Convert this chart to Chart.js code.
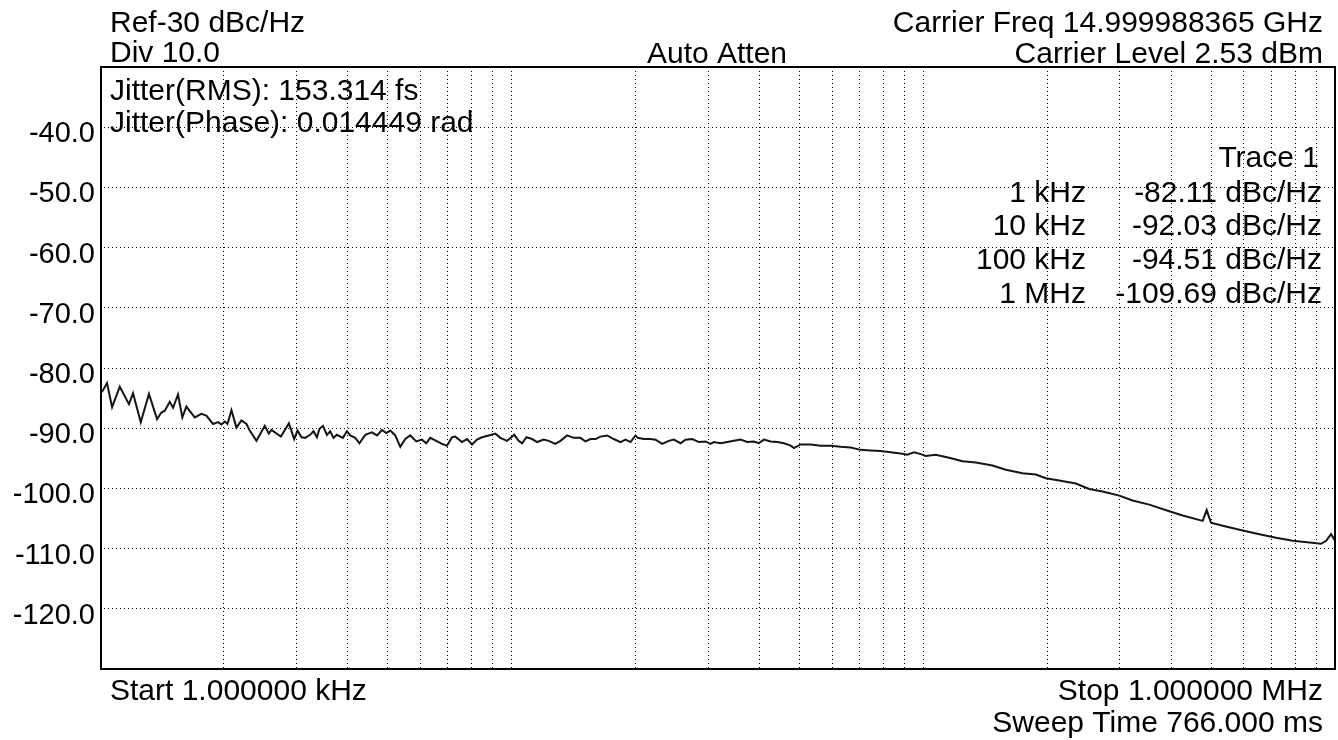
<!DOCTYPE html>
<html>
<head>
<meta charset="utf-8">
<script src="https://cdn.jsdelivr.net/npm/chart.js@4.4.1/dist/chart.umd.min.js"></script>
<style>
  html, body { margin: 0; padding: 0; background: #fff; }
  #plot { display: block; }
</style>
</head>
<body>
<canvas id="plot" width="1338" height="740"></canvas>
<script>
// offset frequency (Hz) and phase noise (dBc/Hz)
const freqHz = [1000,1017,1040,1070,1117,1176,1203,1256,1315,1376,1409,1437,1477,1505,1547,1585,1621,1699,1763,1813,
  1882,1936,1972,2010,2040,2086,2145,2206,2269,2311,2399,2514,2571,2609,2750,2876,2963,3018,3087,
  3150,3240,3300,3365,3414,3480,3558,3624,3692,3763,3890,3979,4053,4169,4268,4409,4578,4708,4842,4960,
  5072,5215,5363,5515,5671,5864,6055,6202,6342,6559,6772,6963,7164,7297,7575,7791,8012,8239,8472,8794,
  9129,9387,9745,10150,10400,10600,10860,11210,11530,11960,12300,12770,13140,13630,14150,14690,15110,15540,15980,
  16430,17060,17700,18380,18900,19440,19990,20250,20940,21740,22360,23210,24080,24770,25720,26440,27450,28500,29580,
  30410,30980,32170,33400,34660,35970,37350,38760,39840,41000,42560,44190,45850,47610,48490,50340,53240,56290,59560,
  62990,66600,70430,74480,78770,83300,88100,91460,94930,98560,101300,107200,115500,124500,134100,147200,158600,
  174100,187600,198500,213800,234700,252900,272500,299100,322400,353800,395800,426600,477000,487900,499700,533600,
  596900,655000,719300,789700,866800,925000,951500,978400,1000000];

const phaseNoise = [-84.3,-83.7,-82.5,-86.5,-83.1,-86.0,-84.2,-89.0,-84.3,-88.5,-87.4,-87.1,-85.6,-86.6,-84.4,-88.2,-86.4,-88.2,-87.6,-87.9,
  -89.3,-89.0,-89.4,-88.9,-89.3,-87.0,-89.9,-88.7,-89.3,-90.4,-92.1,-89.6,-90.9,-90.3,-91.4,-89.2,-91.8,-90.4,-91.5,
  -91.6,-91.1,-90.5,-91.5,-90.1,-89.6,-91.1,-90.5,-91.6,-91.1,-91.6,-90.5,-91.2,-91.6,-92.5,-91.1,-90.7,-91.2,-90.3,-90.8,
  -90.4,-91.2,-93.1,-91.8,-91.2,-92.2,-91.9,-92.5,-91.6,-92.1,-92.6,-92.9,-91.5,-91.4,-92.3,-91.8,-92.7,-91.9,-91.5,-91.2,
  -90.9,-91.6,-92.1,-91.1,-92.1,-92.5,-91.5,-91.8,-92.3,-91.9,-92.1,-92.6,-92.1,-91.2,-91.6,-91.6,-92.2,-91.8,-91.8,
  -91.4,-91.2,-91.8,-92.3,-91.9,-92.3,-91.2,-91.6,-91.8,-91.8,-91.9,-92.6,-92.1,-91.9,-92.5,-91.9,-91.8,-92.3,-92.2,
  -92.6,-92.3,-92.5,-92.3,-92.1,-91.9,-92.3,-92.2,-92.5,-91.9,-92.2,-92.3,-92.5,-92.9,-93.3,-92.7,-92.7,-92.9,-92.9,
  -93.1,-93.2,-93.6,-93.7,-93.8,-94.0,-94.2,-94.4,-94.0,-94.3,-94.6,-94.4,-94.9,-95.5,-95.7,-96.2,-96.9,
  -97.5,-97.7,-98.3,-98.7,-99.2,-100.1,-100.5,-101.2,-102.0,-102.7,-103.8,-104.5,-105.4,-103.6,-105.7,-106.2,
  -107.0,-107.6,-108.2,-108.7,-109.0,-109.2,-108.7,-107.6,-108.7];

// vertical grid: 1..9 per decade
const gridFreqs = [1e3,2e3,3e3,4e3,5e3,6e3,7e3,8e3,9e3,
  1e4,2e4,3e4,4e4,5e4,6e4,7e4,8e4,9e4,
  1e5,2e5,3e5,4e5,5e5,6e5,7e5,8e5,9e5,1e6];

const refLevel = -30;
const divDb = 10;
const yLabels = [-40,-50,-60,-70,-80,-90,-100,-110,-120];

const markerFreqs = ['1 kHz','10 kHz','100 kHz','1 MHz'];
const markerValues = [-82.11,-92.03,-94.51,-109.69];

const jitterRms = '153.314 fs';
const jitterPhase = '0.014449 rad';
const carrierFreq = '14.999988365 GHz';
const carrierLevel = '2.53 dBm';
const startFreq = '1.000000 kHz';
const stopFreq = '1.000000 MHz';
const sweepTime = '766.000 ms';

const FONT = '"Liberation Sans", Arial, sans-serif';
Chart.defaults.font.family = FONT;
Chart.defaults.color = '#000';

const annotations = {
  id: 'annotations',
  afterDraw(chart) {
    const ctx = chart.ctx;
    const a = chart.chartArea;
    ctx.save();
    // frame
    ctx.strokeStyle = '#000';
    ctx.lineWidth = 2;
    ctx.strokeRect(a.left + 1, a.top, a.right - a.left - 1, a.bottom - a.top);

    ctx.fillStyle = '#000';
    ctx.font = '30px ' + FONT;
    ctx.textBaseline = 'alphabetic';

    ctx.textAlign = 'left';
    ctx.fillText('Ref' + refLevel + ' dBc/Hz', 110, 32);
    ctx.fillText('Div ' + divDb.toFixed(1), 110, 62);
    ctx.fillText('Jitter(RMS): ' + jitterRms, 110, 100);
    ctx.fillText('Jitter(Phase): ' + jitterPhase, 110, 132);
    ctx.fillText('Start ' + startFreq, 110, 700);

    ctx.textAlign = 'center';
    ctx.fillText('Auto Atten', 717, 63);

    ctx.textAlign = 'right';
    ctx.fillText('Carrier Freq ' + carrierFreq, 1323, 32);
    ctx.fillText('Carrier Level ' + carrierLevel, 1323, 63);
    ctx.fillText('Stop ' + stopFreq, 1323, 700);
    ctx.fillText('Sweep Time ' + sweepTime, 1323, 732);

    ctx.fillText('Trace 1', 1319, 167);
    const rowY = [202, 235, 269, 303];
    markerFreqs.forEach((f, i) => {
      ctx.fillText(f, 1086, rowY[i]);
      ctx.fillText(markerValues[i].toFixed(2) + ' dBc/Hz', 1322, rowY[i]);
    });
    ctx.restore();
  }
};

new Chart(document.getElementById('plot'), {
  type: 'line',
  data: {
    datasets: [{
      data: freqHz.map((f, i) => ({ x: f, y: phaseNoise[i] })),
      borderColor: '#151515',
      borderWidth: 2,
      pointRadius: 0,
      tension: 0,
      fill: false
    }]
  },
  options: {
    responsive: false,
    animation: false,
    devicePixelRatio: 1,
    layout: { padding: { left: 0, top: 67, right: 3, bottom: 71 } },
    plugins: { legend: { display: false }, tooltip: { enabled: false } },
    scales: {
      x: {
        type: 'logarithmic',
        min: 1e3,
        max: 1e6,
        afterBuildTicks: scale => { scale.ticks = gridFreqs.map(v => ({ value: v })); },
        ticks: { display: false },
        grid: { color: '#000', lineWidth: 1, drawTicks: false },
        border: { display: false, dash: [1, 3] }
      },
      y: {
        min: refLevel - 10 * divDb,
        max: refLevel,
        afterFit: scale => { scale.width = 100; },
        ticks: {
          stepSize: divDb,
          padding: 5,
          labelOffset: 7,
          font: { size: 29 },
          color: '#000',
          callback: v => yLabels.includes(v) ? v.toFixed(1) : ''
        },
        grid: { color: '#000', lineWidth: 1, drawTicks: false },
        border: { display: false, dash: [1, 3] }
      }
    }
  },
  plugins: [annotations]
});
</script>
</body>
</html>
